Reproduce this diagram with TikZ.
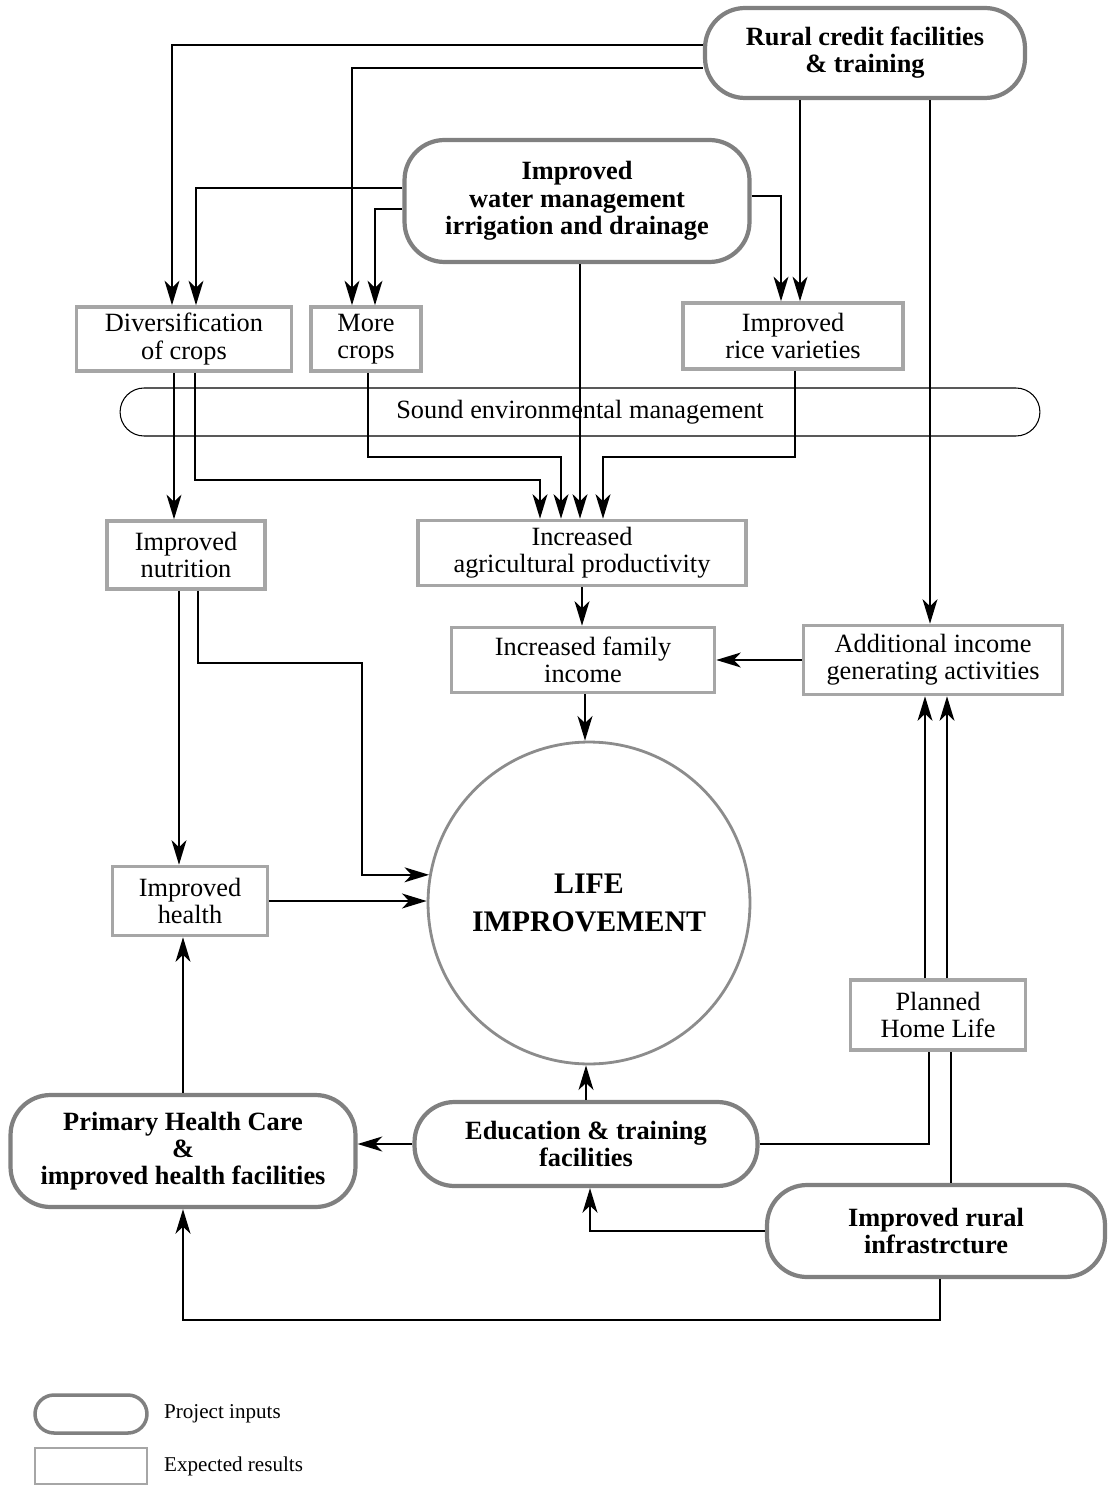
\documentclass[tikz,border=0pt]{standalone}
\usepackage{fontspec}
\setmainfont{Liberation Serif}
\usetikzlibrary{arrows.meta}

\begin{document}
\begin{tikzpicture}[x=0.02cm,y=-0.02cm,
		inbox/.style={draw=black!50,line width=2.4pt,rounded corners=0.8cm,align=center,inner sep=0pt,font=\bfseries\fontsize{15}{15.5}\selectfont},
		resbox/.style={draw=black!35,line width=2pt,align=center,inner sep=0pt,font=\fontsize{15}{15.5}\selectfont},
		arr/.style={-{Stealth[length=14pt,width=8.5pt,inset=4pt]},line width=1pt},
		line/.style={line width=1pt}]
		\useasboundingbox (0,0) rectangle (1107,1486); %page frame
		
		% project inputs
		\node[inbox,minimum width=6.4cm,minimum height=1.8cm] (rural) at (865,53) {Rural credit facilities\\\& training}; %top right
		\node[inbox,minimum width=6.9cm,minimum height=2.44cm] (water) at (577,201) {Improved\\water management\\irrigation and drainage}; %top middle
		\node[inbox,minimum width=6.9cm,minimum height=2.24cm] (phc) at (183,1151) {Primary Health Care\\\&\\improved health facilities}; %bottom left
		\node[inbox,minimum width=6.86cm,minimum height=1.68cm] (edu) at (586,1144) {Education \& training\\facilities}; %bottom middle
		\node[inbox,minimum width=6.76cm,minimum height=1.84cm] (infra) at (936,1231) {Improved rural\\infrastrcture}; %bottom right
		
		% expected results
		\node[resbox,minimum width=4.3cm,minimum height=1.28cm] (div) at (184,339) {Diversification\\of crops};
		\node[resbox,minimum width=2.2cm,minimum height=1.28cm] (more) at (366,339) {More\\crops};
		\node[resbox,minimum width=4.4cm,minimum height=1.32cm] (rice) at (793,336) {Improved\\rice varieties};
		\node[resbox,minimum width=3.16cm,minimum height=1.36cm] (nutr) at (186,555) {Improved\\nutrition};
		\node[resbox,minimum width=6.56cm,minimum height=1.3cm] (agri) at (582,553) {Increased\\agricultural productivity};
		\node[resbox,minimum width=5.26cm,minimum height=1.3cm] (family) at (583,660) {Increased family\\income};
		\node[resbox,minimum width=5.18cm,minimum height=1.38cm] (addinc) at (933,660) {Additional income\\generating activities};
		\node[resbox,minimum width=3.1cm,minimum height=1.38cm] (health) at (190,901) {Improved\\health};
		\node[resbox,minimum width=3.5cm,minimum height=1.4cm] (home) at (938,1015) {Planned\\Home Life};
		
		\node[draw,line width=0.6pt,rounded corners=0.48cm,minimum width=18.4cm,minimum height=0.96cm,inner sep=0pt,font=\fontsize{15}{15.5}\selectfont] (env) at (580,412) {Sound environmental management}; %long bar
		\node[circle,draw=black!45,line width=1.6pt,minimum size=6.44cm,align=center,font=\bfseries\fontsize{17}{21.5}\selectfont] (life) at (589,903) {LIFE\\IMPROVEMENT}; %centre
		
		% from the inputs on top
		\draw[arr] (rural.west |- 0,45) -| (div.north -| 172,0); %rural to diversification
		\draw[arr] (rural.west |- 0,68) -| (more.north -| 352,0); %rural to more crops
		\draw[arr] (water.west |- 0,188) -| (div.north -| 196,0); %water to diversification
		\draw[arr] (water.west |- 0,209) -| (more.north -| 375,0); %water to more crops
		\draw[arr] (water.east |- 0,196) -| (rice.north -| 781,0); %water to rice
		\draw[arr] (rural.south -| 800,0) -- (rice.north -| 800,0); %rural to rice
		\draw[arr] (rural.south -| 930,0) -- (addinc.north -| 930,0); %rural to income activities
		
		% into productivity, sorted in rising x
		\draw[arr] (div.south -| 195,0) |- (540,480) -- (agri.north -| 540,0);
		\draw[arr] (more.south -| 368,0) |- (561,457) -- (agri.north -| 561,0);
		\draw[arr] (water.south -| 580,0) -- (agri.north -| 580,0);
		\draw[arr] (rice.south -| 795,0) |- (603,457) -- (agri.north -| 603,0);
		
		\draw[arr] (div.south -| 174,0) -- (nutr.north -| 174,0); %diversification to nutrition
		\draw[arr] (agri.south) -- (agri.south |- family.north); %productivity to income
		\draw[arr] (addinc.west) -- (family.east); %activities to income
		\draw[arr] (family.south -| 585,0) -- (life.north -| 585,0); %income to life
		
		% left side
		\draw[arr] (nutr.south -| 198,0) |- (362,663) |- (life.170); %nutrition to life
		\draw[arr] (nutr.south -| 179,0) -- (health.north -| 179,0); %nutrition to health
		\draw[arr] (health.east) -- (life.west |- health.east); %health to life
		\draw[arr] (phc.north) -- (phc.north |- health.south); %care to health
		
		% bottom
		\draw[arr] (edu.west) -- (edu.west -| phc.east); %education to care
		\draw[arr] (edu.north) -- (edu.north |- life.south); %education to life
		\draw[line] (edu.east) -| (home.south -| 929,0); %education to home life
		\draw[line] (infra.north -| 951,0) -- (home.south -| 951,0); %infrastructure to home life
		\draw[arr] (home.north -| 925,0) -- (addinc.south -| 925,0); %home life to activities
		\draw[arr] (home.north -| 947,0) -- (addinc.south -| 947,0); %home life to activities
		\draw[arr] (infra.west) -| (edu.south -| 590,0); %infrastructure to education
		\draw[arr] (infra.south -| 940,0) |- (phc.south |- 0,1320) -- (phc.south); %infrastructure to care
		
		% legend
		\node[inbox,line width=2pt,rounded corners=0.38cm,minimum width=2.24cm,minimum height=0.76cm] (keyin) at (91,1414) {};
		\node[resbox,line width=1.6pt,minimum width=2.24cm,minimum height=0.72cm] (keyres) at (91,1466) {};
		\node[anchor=west,font=\fontsize{12}{14}\selectfont] (keyintext) at (158,1414) {Project inputs};
		\node[anchor=west,font=\fontsize{12}{14}\selectfont] (keyrestext) at (158,1466) {Expected results};
\end{tikzpicture}
\end{document}
